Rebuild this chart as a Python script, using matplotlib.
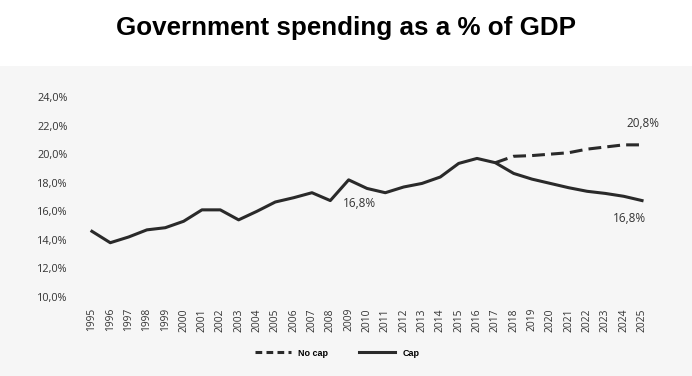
import matplotlib.pyplot as plt
import matplotlib.patches as mpatches
from matplotlib.lines import Line2D

plt.rcParams['font.family'] = ['Open Sans', 'DejaVu Sans']

# data
years = list(range(1995, 2026))
cap = [14.6, 13.8, 14.2, 14.7, 14.85, 15.3, 16.1, 16.1, 15.4, 16.0,
       16.65, 16.95, 17.3, 16.75, 18.2, 17.6, 17.3, 17.7, 17.95, 18.4,
       19.35, 19.7, 19.4, 18.65, 18.25, 17.95, 17.65, 17.4, 17.25, 17.05,
       16.75]
nocap_years = list(range(2017, 2026))
nocap = [19.4, 19.85, 19.9, 20.0, 20.1, 20.35, 20.5, 20.65, 20.65]
yticks = [10, 12, 14, 16, 18, 20, 22, 24]
labels = [('16,8%', 2009.6, 16.55), ('20,8%', 2025.05, 22.15), ('16,8%', 2024.3, 15.5)]

line_col = '#2a2a2a'
txt_col = '#333333'

fig = plt.figure(figsize=(6.92, 3.76), dpi=100)
fig.patch.set_facecolor('white')
# scanned paper look below the title
bg = mpatches.Rectangle((0, 0), 1, 1 - 66 / 376, transform=fig.transFigure,
                        facecolor='#f6f6f6', edgecolor='none', zorder=-10)
fig.patches.append(bg)

ax = fig.add_axes([80 / 692, 1 - 297 / 376, 580 / 692, 200 / 376])
ax.set_facecolor('none')
ax.set_zorder(5)

ax.plot(years, cap, color=line_col, lw=2.2, solid_joinstyle='round')
ax.plot(nocap_years, nocap, color=line_col, lw=2.2, dashes=(4.2, 2.0))

for t, x, y in labels:
    ax.text(x, y, t, ha='center', va='center', fontsize=8.5, color=txt_col)

ax.set_xlim(1994.35, 2025.98)
ax.set_ylim(10, 24)
ax.set_xticks(years)
ax.set_xticklabels([str(y) for y in years], rotation=90, fontsize=7.4, color=txt_col)
ax.set_yticks(yticks)
ax.set_yticklabels(['%d,0%%' % v for v in yticks], fontsize=7.8, color=txt_col)
ax.tick_params(length=0, pad=8)
ax.tick_params(axis='y', pad=9)
for s in ax.spines.values():
    s.set_visible(False)

fig.text(0.5, 1 - 28 / 376, 'Government spending as a % of GDP', ha='center', va='center',
         fontsize=18.7, fontweight='bold', family='Liberation Sans', color='black')

handles = [Line2D([], [], color=line_col, lw=2.2, dashes=(2.2, 1.4)),
           Line2D([], [], color=line_col, lw=2.2)]
leg = fig.legend(handles, ['No cap', 'Cap'], loc='center', bbox_to_anchor=(337 / 692, 1 - 353 / 376),
                 ncol=2, frameon=False, handlelength=4.0, handletextpad=0.8, columnspacing=3.4,
                 prop={'family': 'Liberation Sans', 'weight': 'bold', 'size': 6.5})
leg.set_zorder(6)

fig.savefig('out.png', dpi=100)
